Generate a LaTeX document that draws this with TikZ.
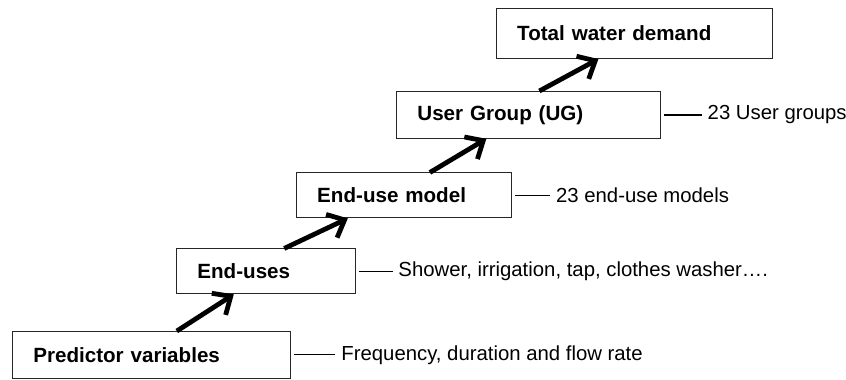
\documentclass[tikz,border=0pt]{standalone}
\usepackage{fontspec}
\setmainfont{Liberation Sans}
\usetikzlibrary{positioning,calc,arrows.meta}

\begin{document}
\begin{tikzpicture}[
        box/.style={draw=black!85, line width=0.7pt, minimum height=1.24cm, inner xsep=0.55cm, align=left, anchor=west, font=\fontsize{15.5}{18}\selectfont\bfseries},
        note/.style={inner xsep=0pt, font=\fontsize{15.3}{18}\selectfont},
        tick/.style={line width=0.7pt, shorten <=0.08cm, shorten >=0.15cm},
        flow/.style={line width=3.6pt, -{Straight Barb[length=0.38cm,width=0.68cm]}}
    ]
                \useasboundingbox (0,0) rectangle (22.38,10.05);
                % steps, bottom to top
                \node [box, text width=6.26cm] (pv) at (0.32,0.66) {Predictor variables};
                \node [box, text width=3.64cm, minimum height=1.19cm] (eu) at (4.66,2.87) {End-uses};
                \node [box, text width=4.59cm, minimum height=1.19cm] (em) at (7.83,4.88) {End-use model};
                \node [box, text width=5.89cm] (ug) at (10.48,7.01) {User Group (UG)};
                \node [box, text width=6.20cm, minimum height=1.32cm] (tw) at (13.12,9.16) {Total water demand};
                % side notes
                \node [note, right=1.32cm of pv] (pvnote) {Frequency, duration and flow rate};
                \node [note, right=1.11cm of eu] (eunote) {Shower, irrigation, tap, clothes washer\dots.};
                \node [note, right=1.16cm of em] (emnote) {23 end-use models};
                \node [note, right=1.22cm of ug] (ugnote) {23 User groups};
                \draw [tick] (pv.east) -- (pvnote.west);
                \draw [tick] (eu.east) -- (eunote.west);
                \draw [tick] (em.east) -- (emnote.west);
                \draw [tick, line width=1.5pt] (ug.east) -- (ugnote.west);
                % arrows between steps
                \draw [flow] ($(pv.north west)!0.59!(pv.north east)$) -- ($(eu.south west)!0.32!(eu.south east)$);
                \draw [flow] ($(eu.north west)!0.6!(eu.north east)$) -- ($(em.south west)!0.24!(em.south east)$);
                \draw [flow] ($(em.north west)!0.62!(em.north east)$) -- ($(ug.south west)!0.34!(ug.south east)$);
                \draw [flow] ($(ug.north west)!0.54!(ug.north east)$) -- ($(tw.south west)!0.37!(tw.south east)$);
            \end{tikzpicture}
\end{document}
